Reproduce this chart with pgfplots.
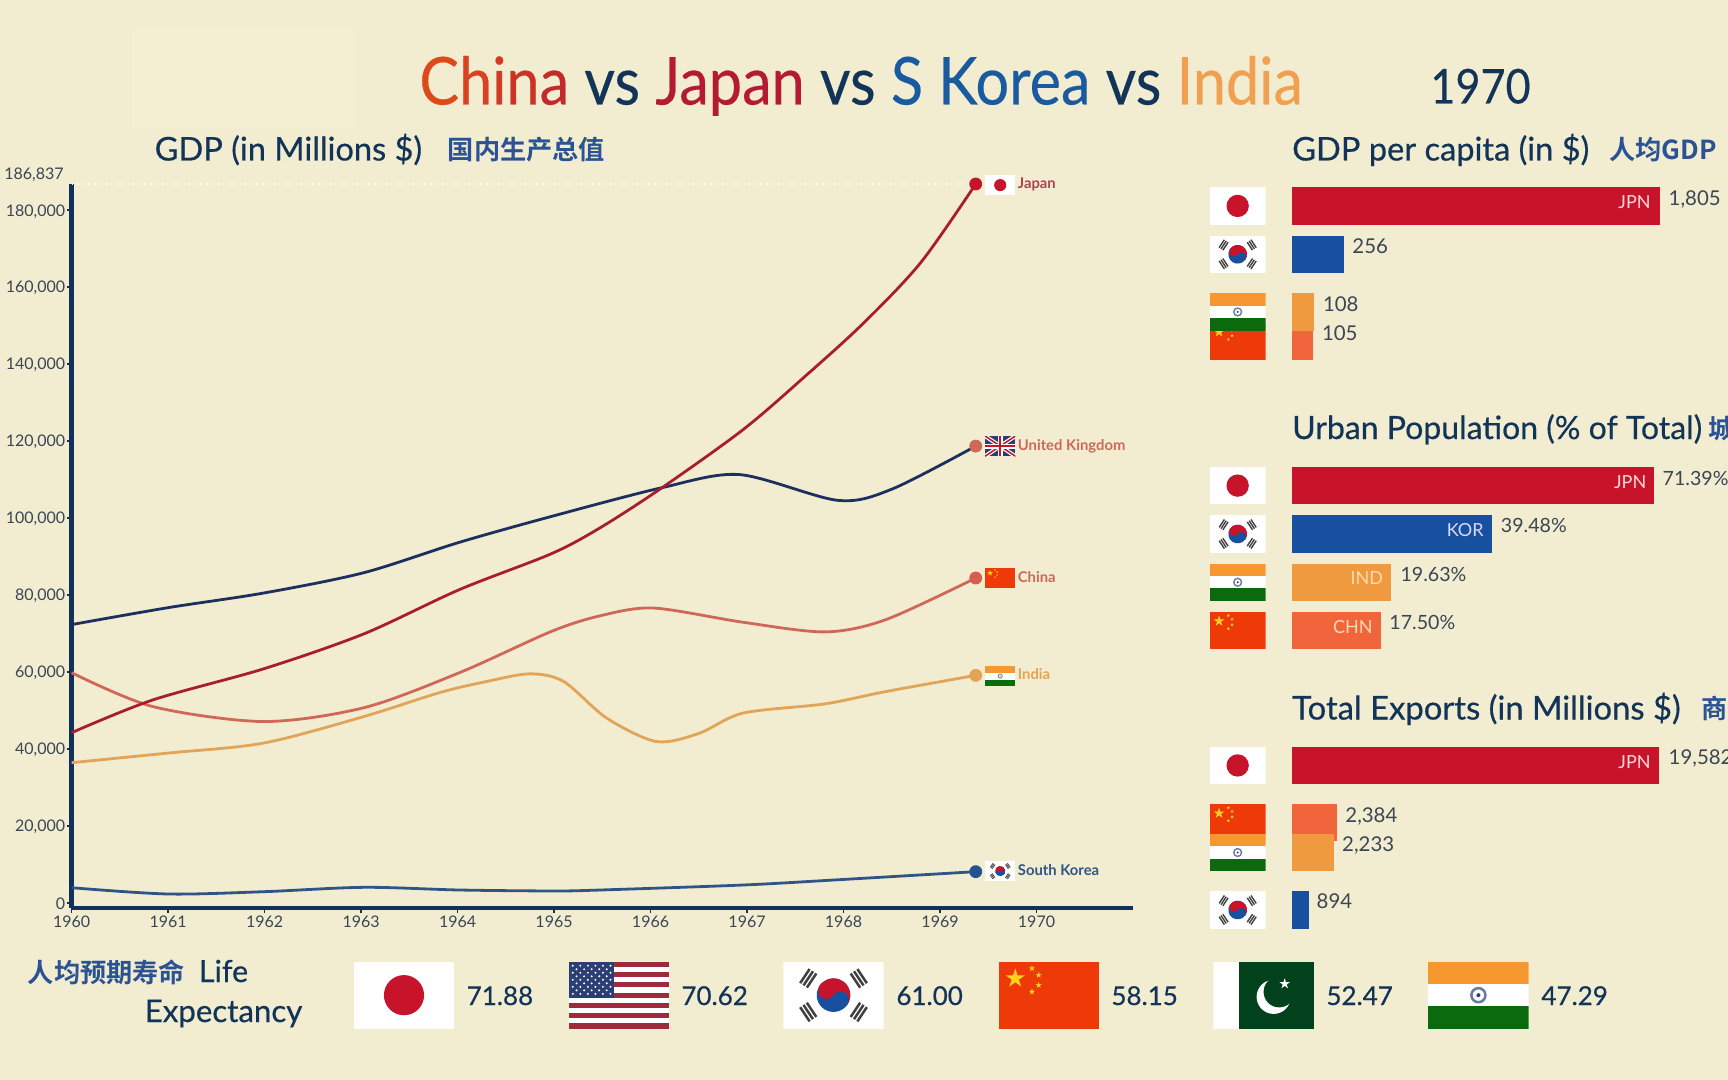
\documentclass[border=0pt]{standalone}
\usepackage{fontspec}
\usepackage{pgfplots}
\pgfplotsset{compat=1.18}
\setmainfont{Lato}
\newfontfamily\cjk{Noto Sans CJK SC}[BoldFont=* Bold]
\newfontfamily\ttl{Lato}[FakeStretch=0.9,FakeBold=0.3]
\newfontfamily\pnl{Lato}[FakeBold=0.5]
\definecolor{bg}{HTML}{F2EDD0}
\definecolor{patch}{HTML}{F4EFD3}
\definecolor{navy}{HTML}{123458}
\definecolor{axisnavy}{HTML}{12305A}
\definecolor{ticktxt}{HTML}{3A4654}
\definecolor{cjkblue}{HTML}{2A5295}
\definecolor{barJ}{HTML}{C8142A}
\definecolor{barK}{HTML}{17509E}
\definecolor{barI}{HTML}{EF9A3F}
\definecolor{barC}{HTML}{F0653C}
\definecolor{lnUK}{HTML}{1D2F5F}
\definecolor{lnJ}{HTML}{A81E2E}
\definecolor{lnC}{HTML}{D0685A}
\definecolor{lnI}{HTML}{E2A457}
\definecolor{lnK}{HTML}{2F5586}
\definecolor{flR}{HTML}{EE3A08}
\definecolor{flY}{HTML}{FFD21E}
\definecolor{flO}{HTML}{F7972F}
\definecolor{flG}{HTML}{0B6A0E}
\definecolor{flP}{HTML}{01411C}
\definecolor{flN}{HTML}{2B3F75}
\definecolor{flS}{HTML}{9E2A3E}
% text: x y colour size text (px from the top left corner; 1 px = 0.5pt)
\newcommand\T[5]{\node[anchor=base west,inner sep=0pt,text=#3,font=\fontsize{#4}{#4}\selectfont] at (#1,#2) {#5};}
\newcommand\TR[5]{\node[anchor=base east,inner sep=0pt,text=#3,font=\fontsize{#4}{#4}\selectfont] at (#1,#2) {#5};}
\newcommand\fstar[3]{\fill[shift={(#1,#2)}] (-90:#3) -- (-54:#3*.38) -- (-18:#3) -- (18:#3*.38) -- (54:#3) -- (90:#3*.38) -- (126:#3) -- (162:#3*.38) -- (198:#3) -- (234:#3*.38) -- cycle;}
\newenvironment{flagbox}[3]{\begin{scope}[shift={(#1,#2)},x=#3*0.5pt,y=-#3*0.5pt]\clip (0,0) rectangle (1,.6667);}{\end{scope}}
\newcommand\flagJP[3]{\begin{flagbox}{#1}{#2}{#3}\fill[white] (0,0) rectangle (1,.6667);\fill[barJ] (.5,.3333) circle[radius=.2];\end{flagbox}}
\newcommand\flagCN[3]{\begin{flagbox}{#1}{#2}{#3}\fill[flR] (0,0) rectangle (1,.6667);\begin{scope}[flY]\fstar{.167}{.167}{.1}\fstar{.333}{.067}{.033}\fstar{.4}{.133}{.033}\fstar{.4}{.233}{.033}\fstar{.333}{.3}{.033}\end{scope}\end{flagbox}}
\newcommand\flagIN[3]{\begin{flagbox}{#1}{#2}{#3}\fill[white] (0,0) rectangle (1,.6667);\fill[flO] (0,0) rectangle (1,.2222);\fill[flG] (0,.4444) rectangle (1,.6667);\draw[flN!70!white,line width=.025*#3*.5pt] (.5,.3333) circle[radius=.07];\fill[flN] (.5,.3333) circle[radius=.02];\end{flagbox}}
\newcommand\flagKR[3]{\begin{flagbox}{#1}{#2}{#3}\fill[white] (0,0) rectangle (1,.6667);
\begin{scope}[shift={(.5,.3333)},rotate=-33.7]\fill[barK] (0,0) circle[radius=.167];\fill[barJ] (-.167,0) arc[start angle=180,end angle=360,radius=.167] -- cycle;\fill[barJ] (-.0835,0) circle[radius=.0835];\fill[barK] (.0835,0) circle[radius=.0835];\end{scope}
\foreach \a in {33.7,146.3,213.7,326.3}{\begin{scope}[shift={(.5,.3333)},rotate=\a]\fill[black!75] (.25,-.085) rectangle (.275,.085);\fill[black!75] (.29,-.085) rectangle (.315,.085);\fill[black!75] (.33,-.085) rectangle (.355,.085);\end{scope}}
\end{flagbox}}
\newcommand\flagUK[3]{\begin{flagbox}{#1}{#2}{#3}\fill[flN] (0,0) rectangle (1,.6667);
\draw[white,line width=.13*#3*.5pt] (0,0)--(1,.6667) (0,.6667)--(1,0);\draw[barJ,line width=.05*#3*.5pt] (0,0)--(1,.6667) (0,.6667)--(1,0);
\fill[white] (.42,0) rectangle (.58,.6667);\fill[white] (0,.25) rectangle (1,.4167);\fill[barJ] (.46,0) rectangle (.54,.6667);\fill[barJ] (0,.29) rectangle (1,.3767);\end{flagbox}}
\newcommand\flagUS[3]{\begin{flagbox}{#1}{#2}{#3}\fill[white] (0,0) rectangle (1,.6667);
\foreach \i in {0,2,...,12}{\fill[flS] (0,{\i*.05128}) rectangle (1,{(\i+1)*.05128});}
\fill[flN] (0,0) rectangle (.45,.359);
\foreach \i in {0,...,5}{\foreach \j in {0,...,4}{\fill[white] ({.04+\i*.075},{.04+\j*.07}) circle[radius=.011];}}
\foreach \i in {0,...,4}{\foreach \j in {0,...,3}{\fill[white] ({.0775+\i*.075},{.075+\j*.07}) circle[radius=.011];}}
\end{flagbox}}
\newcommand\flagPK[3]{\begin{flagbox}{#1}{#2}{#3}\fill[white] (0,0) rectangle (1,.6667);\fill[flP] (.25,0) rectangle (1,.6667);\fill[white] (.6,.35) circle[radius=.17];\fill[flP] (.655,.3) circle[radius=.155];\begin{scope}[white]\fstar{.71}{.22}{.055}\end{scope}\end{flagbox}}
\pgfplotsset{barp/.style={hide axis,scale only axis,clip=false,xbar,bar shift=0pt,bar width=18.7pt,xmin=0,y dir=reverse,enlargelimits=false,anchor=south west}}
\begin{document}
\begin{tikzpicture}
\path[use as bounding box] (0,0) rectangle (864pt,-540pt);
\clip (0,0) rectangle (864pt,-540pt);
\fill[bg] (0,0) rectangle (864pt,-540pt);
\fill[patch] (66pt,-14pt) rectangle (176.5pt,-64pt);
\begin{axis}[
  at={(35.8pt,-453.85pt)},anchor=south west,scale only axis,width=530.7pt,height=361.85pt,
  xmin=1960,xmax=1971,ymin=-1300,ymax=186837,clip=false,
  axis x line*=bottom,axis y line*=left,
  axis line style={axisnavy,line width=2.2pt,-},
  xtick={1960,1961,...,1970},
  xticklabels={1960,1961,1962,1963,1964,1965,1966,1967,1968,1969,1970},
  ytick={0,20000,40000,60000,80000,100000,120000,140000,160000,180000},
  yticklabels={0,{20,000},{40,000},{60,000},{80,000},{100,000},{120,000},{140,000},{160,000},{180,000}},
  scaled y ticks=false,
  tick align=outside,
  major tick length=2.5pt,
  tick style={axisnavy,line width=.9pt},
  x tick label style={font=\fontsize{8}{9}\selectfont,text=ticktxt,yshift=1.9pt},
  y tick label style={font=\fontsize{8}{9}\selectfont,text=ticktxt,xshift=2.8pt,yshift=-.5pt},
]
\addplot[dotted,line width=.8pt,color=white!70!bg,forget plot] coordinates {(1960,186837)(1969.37,186837)};
% South Korea
\addplot[smooth,color=lnK,line width=1.4pt,forget plot] coordinates {(1960,3900)(1961,2260)(1961.99,2860)(1963.03,4000)(1964.02,3300)(1965,3050)(1965.48,3300)(1966.96,4600)(1967.9,5900)(1969.37,8070)};
% India
\addplot[smooth,color=lnI,line width=1.4pt,forget plot] coordinates {(1960,36400)(1961,38900)(1961.99,41500)(1963.03,48400)(1963.82,54660)(1964.3,57500)(1964.75,59500)(1965.1,57500)(1965.545,48000)(1966.06,41900)(1966.5,44000)(1966.96,49300)(1967.81,51700)(1968.44,54900)(1969.37,59100)};
% China
\addplot[smooth,color=lnC,line width=1.4pt,forget plot] coordinates {(1960,59800)(1960.84,51000)(1961.99,47100)(1963.03,50700)(1964.02,59800)(1964.97,70500)(1965.48,74600)(1966.03,76600)(1966.96,72900)(1967.81,70400)(1968.44,73600)(1969.37,84400)};
% United Kingdom
\addplot[smooth,color=lnUK,line width=1.4pt,forget plot] coordinates {(1960,72300)(1961,76700)(1961.99,80500)(1963.03,85800)(1964.02,93700)(1965,100600)(1966.12,107900)(1966.92,111300)(1967.94,104600)(1968.5,107500)(1969.37,118700)};
% Japan
\addplot[smooth,color=lnJ,line width=1.4pt,forget plot] coordinates {(1960,44200)(1960.84,52700)(1961.99,60800)(1963.03,69900)(1964.02,81400)(1964.97,90700)(1965.48,97500)(1966.12,107900)(1966.96,123000)(1967.6,136800)(1968.2,150500)(1968.8,166400)(1969.37,186837)};
\addplot[only marks,mark=*,mark size=3pt,color=lnK!60!barK,mark options={solid,fill=lnK!60!barK},forget plot] coordinates {(1969.37,8070)};
\addplot[only marks,mark=*,mark size=3pt,color=lnI,mark options={solid,fill=lnI},forget plot] coordinates {(1969.37,59100)};
\addplot[only marks,mark=*,mark size=3pt,color=lnC!90!red,mark options={solid,fill=lnC!90!red},forget plot] coordinates {(1969.37,84400)};
\addplot[only marks,mark=*,mark size=3pt,color=lnC,mark options={solid,fill=lnC},forget plot] coordinates {(1969.37,118700)};
\addplot[only marks,mark=*,mark size=3pt,color=barJ,mark options={solid,fill=barJ},forget plot] coordinates {(1969.37,186837)};
\end{axis}
% GDP per capita
\begin{axis}[barp,at={(645.9pt,-185pt)},width=203.8pt,height=95pt,xmax=2000,ymin=180,ymax=370]
\addplot[fill=barJ,draw=none] coordinates {(1805,206.2)};
\addplot[fill=barK,draw=none] coordinates {(256,254.5)};
\addplot[fill=barC,draw=none] coordinates {(105,341.5)};
\addplot[fill=barI,draw=none] coordinates {(108,312)};
\end{axis}
% Urban population
\begin{axis}[barp,at={(645.9pt,-330pt)},width=203.12pt,height=100pt,xmax=80,ymin=460,ymax=660]
\addplot[fill=barJ,draw=none] coordinates {(71.39,485.7)};
\addplot[fill=barK,draw=none] coordinates {(39.48,533.8)};
\addplot[fill=barI,draw=none] coordinates {(19.63,582.2)};
\addplot[fill=barC,draw=none] coordinates {(17.50,630.4)};
\end{axis}
% Exports
\begin{axis}[barp,at={(645.9pt,-470pt)},width=206.5pt,height=100pt,xmax=22000,ymin=740,ymax=940]
\addplot[fill=barJ,draw=none] coordinates {(19582,765.4)};
\addplot[fill=barC,draw=none] coordinates {(2384,822.5)};
\addplot[fill=barI,draw=none] coordinates {(2233,852.5)};
\addplot[fill=barK,draw=none] coordinates {(894,910)};
\end{axis}
\begin{scope}[x=0.5pt,y=-0.5pt]
% main title
\T{419}{104.5}{navy}{33}{\ttl\textcolor[HTML]{DC4A1C}{C}\textcolor[HTML]{D94120}{h}\textcolor[HTML]{D33A24}{i}\textcolor[HTML]{CC3226}{n}\textcolor[HTML]{C42A2A}{a} vs \textcolor[HTML]{B51A33}{Japan} vs \textcolor[HTML]{1A5AA0}{S Korea} vs \textcolor[HTML]{F0A050}{India}}
\T{1430}{103.5}{navy}{24}{\ttl 1970}
% panel titles
\T{154.3}{160.5}{navy}{16.3}{\pnl GDP (in Millions \$)}
\T{447.4}{160}{cjkblue}{13.1}{\cjk\bfseries 国内生产总值}
\T{1291.8}{160.5}{navy}{16.3}{\pnl GDP per capita (in \$)}
\T{1608.7}{160}{cjkblue}{13.1}{\cjk\bfseries 人均GDP}
\T{1291.8}{439}{navy}{16}{\pnl Urban Population (\% of Total)}
\T{1708.5}{438}{cjkblue}{13.1}{\cjk\bfseries 城}
\T{1291.8}{719.5}{navy}{16.4}{\pnl Total Exports (in Millions \$)}
\T{1701.5}{718.5}{cjkblue}{13.1}{\cjk\bfseries 商}
% top of the y axis
\TR{64}{180}{ticktxt}{8}{186,837}
% line labels
\flagJP{985}{175}{30.4}
\flagUK{985}{436}{30.4}
\flagCN{985}{568}{30.4}
\flagIN{985}{666}{30.4}
\flagKR{985}{861}{30.4}
\T{1017.5}{188.5}{lnJ!85!white}{7.4}{\bfseries Japan}
\T{1017.5}{450}{lnC}{7.4}{\bfseries United Kingdom}
\T{1017.5}{582}{lnC}{7.4}{\bfseries China}
\T{1017.5}{679.5}{lnI}{7.4}{\bfseries India}
\T{1017.5}{875}{lnK}{7.4}{\bfseries South Korea}
% panel 1
\flagJP{1209.7}{187.3}{55.9}
\flagKR{1209.7}{235.7}{55.9}
\flagCN{1209.7}{322.6}{55.9}
\flagIN{1209.7}{293.3}{55.9}
\T{1668.3}{206}{ticktxt}{10.2}{1,805}
\T{1352}{254}{ticktxt}{10.2}{256}
\T{1322.6}{311.4}{ticktxt}{10.2}{108}
\T{1321.6}{340.4}{ticktxt}{10.2}{105}
\TR{1651}{208.8}{red!15!white}{9}{JPN}
% panel 2
\flagJP{1209.7}{467}{55.9}
\flagKR{1209.7}{515.4}{55.9}
\flagIN{1209.7}{563.6}{55.9}
\flagCN{1209.7}{611.8}{55.9}
\T{1662.3}{485}{ticktxt}{9.8}{71.39\%}
\T{1500.5}{532.8}{ticktxt}{9.8}{39.48\%}
\T{1400.2}{581.4}{ticktxt}{9.8}{19.63\%}
\T{1389}{629.5}{ticktxt}{9.8}{17.50\%}
\TR{1646.6}{488.5}{red!15!white}{9}{JPN}
\TR{1484}{536.5}{blue!15!white}{9}{KOR}
\TR{1383.4}{584.5}{orange!30!white}{9}{IND}
\TR{1373}{633}{orange!30!white}{9}{CHN}
% panel 3
\flagJP{1209.7}{746.8}{55.9}
\flagCN{1209.7}{803.9}{55.9}
\flagIN{1209.7}{833.9}{55.9}
\flagKR{1209.7}{891.4}{55.9}
\T{1668.3}{764}{ticktxt}{10.2}{19,582}
\T{1345}{822}{ticktxt}{10.2}{2,384}
\T{1341.8}{851.2}{ticktxt}{10.2}{2,233}
\T{1316.3}{908.7}{ticktxt}{10.2}{894}
\TR{1651}{768}{red!15!white}{9}{JPN}
% life expectancy
\T{27.4}{982}{cjkblue}{13.1}{\cjk\bfseries 人均预期寿命}
\T{198.6}{982}{navy}{15.2}{\pnl Life}
\T{144.4}{1022}{navy}{15.6}{\pnl Expectancy}
\flagJP{353.8}{961.7}{100.4}
\flagUS{568.8}{961.7}{100.4}
\flagKR{783.3}{961.7}{100.4}
\flagCN{998.5}{961.7}{100.4}
\flagPK{1213.4}{961.7}{100.4}
\flagIN{1428.2}{961.7}{100.4}
\T{466.3}{1005}{navy}{13}{\pnl 71.88}
\T{681}{1005}{navy}{13}{\pnl 70.62}
\T{896}{1005}{navy}{13}{\pnl 61.00}
\T{1111}{1005}{navy}{13}{\pnl 58.15}
\T{1326}{1005}{navy}{13}{\pnl 52.47}
\T{1541}{1005}{navy}{13}{\pnl 47.29}
\end{scope}
\end{tikzpicture}
\end{document}
